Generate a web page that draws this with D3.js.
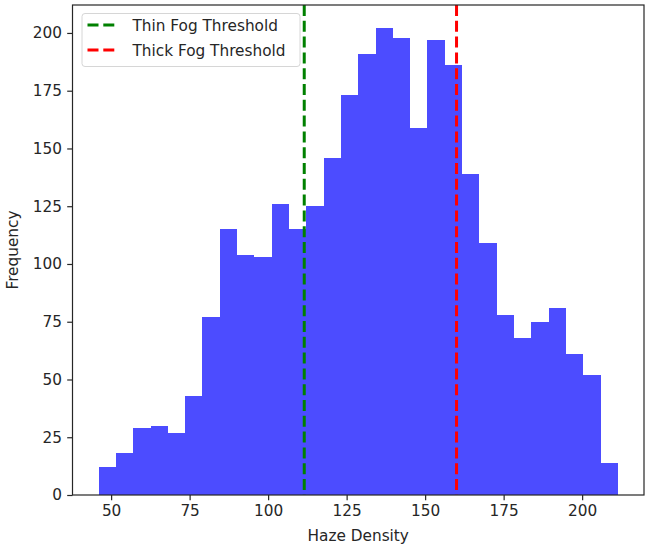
<!DOCTYPE html>
<html>
<head>
<meta charset="utf-8">
<script src="https://cdn.jsdelivr.net/npm/d3@7"></script>
<style>
    body { margin: 0; background: #fff; }
    text { font-family: "DejaVu Sans", sans-serif; fill: #262626; }
</style>
</head>
<body>
<div id="chart"></div>
<script>
// histogram bins (30 equal bins from binStart to binEnd)
const binStart = 46.0;
const binEnd = 211.4;
const counts = [12, 18, 29, 30, 27, 43, 77, 115, 104, 103, 126, 115, 125, 146, 173,
                191, 202, 198, 159, 197, 186, 139, 109, 78, 68, 75, 81, 61, 52, 14];

const thresholds = [
    {label: "Thin Fog Threshold", value: 111.5, color: "green"},
    {label: "Thick Fog Threshold", value: 160.0, color: "red"}
];

const xTicks = [50, 75, 100, 125, 150, 175, 200];
const yTicks = [0, 25, 50, 75, 100, 125, 150, 175, 200];

const fontSize = "15.3px";

let margin = {top: 5, right: 1, bottom: 54, left: 72.5},
    width = 645 - margin.left - margin.right,
    height = 549 - margin.top - margin.bottom;

let svg = d3.select("#chart")
    .append("svg")
    .attr("width", 645)
    .attr("height", 549)
    .append("g")
    .attr("transform", "translate(" + margin.left + "," + margin.top + ")");

let x = d3.scaleLinear()
    .domain([37.7, 219.7])
    .range([0, width]);

let y = d3.scaleLinear()
    .domain([0, 212.1])
    .range([height, 0]);

const binWidth = (binEnd - binStart) / counts.length;

// bars
svg.selectAll("rect.bar")
    .data(counts)
    .enter()
    .append("rect")
    .attr("class", "bar")
    .attr("x", (d, i) => x(binStart + i * binWidth))
    .attr("width", x(binStart + binWidth) - x(binStart))
    .attr("y", d => y(d))
    .attr("height", d => height - y(d))
    .attr("fill", "blue")
    .attr("fill-opacity", 0.7)
    .attr("shape-rendering", "crispEdges");

// threshold lines
svg.selectAll("line.thr")
    .data(thresholds)
    .enter()
    .append("line")
    .attr("class", "thr")
    .attr("x1", d => x(d.value))
    .attr("x2", d => x(d.value))
    .attr("y1", 0)
    .attr("y2", height)
    .attr("stroke", d => d.color)
    .attr("stroke-width", 3)
    .attr("stroke-dasharray", "11,4.8");

// axes
let xAxis = svg.append("g")
    .attr("transform", "translate(0," + height + ")")
    .call(d3.axisBottom(x).tickValues(xTicks).tickSize(5.3).tickPadding(5.3));
let yAxis = svg.append("g")
    .call(d3.axisLeft(y).tickValues(yTicks).tickSize(5.3).tickPadding(5.3));

[xAxis, yAxis].forEach(a => {
    a.select(".domain").remove();
    a.selectAll("line").attr("stroke", "#262626").attr("stroke-width", 1.2);
    a.selectAll("text").style("font-size", fontSize).attr("fill", "#262626");
});

// frame
svg.append("rect")
    .attr("x", 0)
    .attr("y", 0)
    .attr("width", width)
    .attr("height", height)
    .attr("fill", "none")
    .attr("stroke", "#262626")
    .attr("stroke-width", 1.2);

// axis labels
svg.append("text")
    .attr("x", width / 2)
    .attr("y", height + 46)
    .attr("text-anchor", "middle")
    .style("font-size", fontSize)
    .text("Haze Density");

svg.append("text")
    .attr("transform", "translate(" + (-55) + "," + (height / 2) + ") rotate(-90)")
    .attr("text-anchor", "middle")
    .style("font-size", fontSize)
    .text("Frequency");

// legend
let legend = svg.append("g")
    .attr("transform", "translate(9.5,8.5)");

legend.append("rect")
    .attr("width", 218)
    .attr("height", 53)
    .attr("rx", 3)
    .attr("fill", "#fff")
    .attr("fill-opacity", 0.8)
    .attr("stroke", "#d6d6d6")
    .attr("stroke-width", 1);

let rows = legend.selectAll("g.row")
    .data(thresholds)
    .enter()
    .append("g")
    .attr("class", "row")
    .attr("transform", (d, i) => "translate(0," + (11.5 + i * 25) + ")");

rows.append("line")
    .attr("x1", 5.5)
    .attr("x2", 35)
    .attr("y1", 0)
    .attr("y2", 0)
    .attr("stroke", d => d.color)
    .attr("stroke-width", 3)
    .attr("stroke-dasharray", "11,4.8");

rows.append("text")
    .attr("x", 50.5)
    .attr("y", 5.5)
    .style("font-size", fontSize)
    .text(d => d.label);
</script>
</body>
</html>
